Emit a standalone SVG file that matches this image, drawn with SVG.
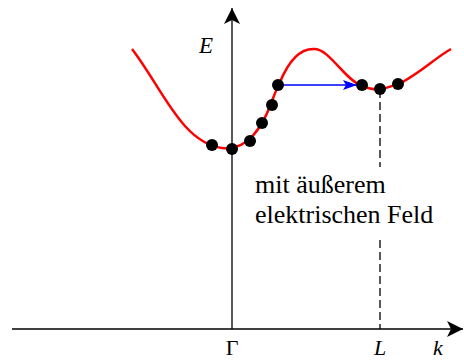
<svg xmlns="http://www.w3.org/2000/svg" width="464" height="360" viewBox="0 0 464 360">
<style>
.ax{stroke:#000;stroke-width:1.3;fill:none}
.lbl{font-family:'Liberation Serif','Times New Roman','DejaVu Serif',serif;fill:#000}
.it{font-style:italic}
.dot{fill:#000}
</style>
<defs>
<marker id="ah" viewBox="0 0 16 16" refX="16" refY="8" markerWidth="16" markerHeight="16" markerUnits="userSpaceOnUse" orient="auto">
<path d="M0,0 L16,8 L0,16 L4,8 Z" fill="#000"/>
</marker>
<marker id="bh" viewBox="0 0 14 10" refX="14" refY="5" markerWidth="14" markerHeight="10" markerUnits="userSpaceOnUse" orient="auto">
<path d="M0,0 L14,5 L0,10 L3,5 Z" fill="#0000ff"/>
</marker>
</defs>
<g id="connectors">
<line id="k-axis" class="ax" x1="12" y1="329" x2="463" y2="329" marker-end="url(#ah)"/>
<line id="E-axis" class="ax" x1="232" y1="329" x2="232" y2="8" marker-end="url(#ah)"/>
<line id="L-dash1" class="ax" x1="380" y1="90" x2="380" y2="167" stroke-dasharray="8,4"/>
<line id="L-dash2" class="ax" x1="380" y1="240" x2="380" y2="329" stroke-dasharray="8,4"/>
<path id="band" d="M132,49 C162,88 182,143 222,148 C240,150 252,140 262,123 C270,110 274,93 280,82 C290,58 302,48 315,49 C330,50 345,80 362,86 C370,89 375,90 380,89 C388,88 392,86 398,84 C415,77 435,58 451,49" fill="none" stroke="#ff0000" stroke-width="2.5"/>
<line id="transfer" x1="278" y1="85" x2="357" y2="85" stroke="#0000ff" stroke-width="1.5" marker-end="url(#bh)"/>
</g>
<g id="electrons">
<circle class="dot" cx="212" cy="145" r="6"/>
<circle class="dot" cx="232" cy="149" r="6"/>
<circle class="dot" cx="250" cy="141" r="6"/>
<circle class="dot" cx="262" cy="123" r="6"/>
<circle class="dot" cx="272" cy="105" r="6"/>
<circle class="dot" cx="278" cy="85" r="6"/>
<circle class="dot" cx="362" cy="85" r="6"/>
<circle class="dot" cx="380" cy="89" r="6"/>
<circle class="dot" cx="398" cy="84" r="6"/>
</g>
<g id="labels">
<text class="lbl it" x="199" y="53" font-size="23">E</text>
<text class="lbl" x="232" y="355" font-size="22" text-anchor="middle">Γ</text>
<text class="lbl it" x="380" y="355" font-size="22" text-anchor="middle">L</text>
<text class="lbl it" x="438" y="355" font-size="22" text-anchor="middle">k</text>
<text class="lbl" x="255" y="193" font-size="26">mit äußerem</text>
<text class="lbl" x="255" y="223" font-size="26">elektrischen Feld</text>
</g>
</svg>
